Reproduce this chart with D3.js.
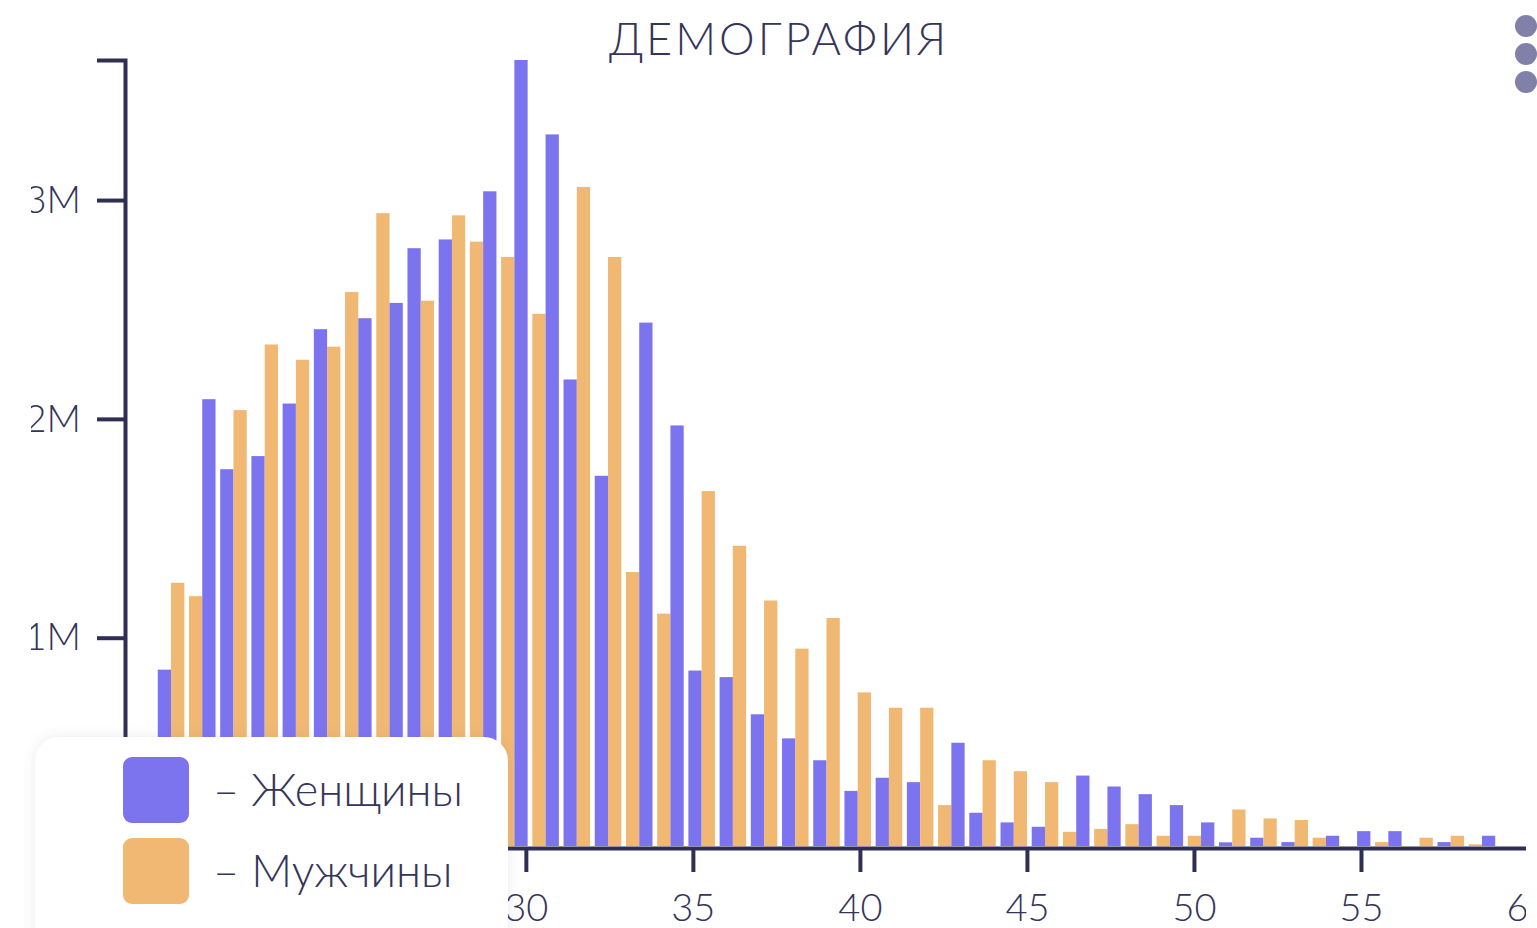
<!DOCTYPE html>
<html lang="ru">
<head>
<meta charset="utf-8">
<title>Демография</title>
<script src="https://cdn.jsdelivr.net/npm/d3@7"></script>
<style>
    html, body { margin: 0; padding: 0; background: #ffffff; overflow: hidden; }
    #chart { width: 1537px; height: 928px; }
    text { font-family: "Lato", "Open Sans", sans-serif; font-weight: 300; fill: #35345a; }
</style>
</head>
<body>
<div id="chart"></div>
<script>
// age groups (one pair of bars per age)
const ages = [18, 19, 20, 21, 22, 23, 24, 25, 26, 27, 28, 29, 30, 31, 32, 33, 34, 35, 36, 37, 38,
              39, 40, 41, 42, 43, 44, 45, 46, 47, 48, 49, 50, 51, 52, 53, 54, 55, 56, 57, 58, 59, 60];

// values in thousands of people
const women = [854, 2090, 1770, 1830, 2070, 2410, 2460, 2530, 2780, 2820, 3040, 3640, 3300, 2180, 1740,
               2440, 1970, 850, 820, 650, 540, 440, 300, 360, 340, 520, 200, 156, 136, 370,
               320, 285, 235, 156, 65, 86, 66, 95, 116, 116, 39, 66, 95];
const men = [1251, 1190, 2040, 2340, 2270, 2330, 2580, 2940, 2540, 2930, 2810, 2740, 2480, 3060, 2740,
             1300, 1110, 1670, 1420, 1170, 950, 1090, 750, 680, 680, 235, 440, 390, 340, 113,
             126, 148, 95, 95, 215, 174, 167, 86, 39, 66, 86, 95, 56];

// which bar comes first inside each pair, as it appears on the chart
const firstBar = ["w", "m", "w", "w", "w", "w", "m", "m", "w", "w", "m", "m", "m", "w", "w",
                  "m", "m", "w", "w", "w", "w", "w", "w", "w", "w", "m", "w", "w", "w", "m",
                  "m", "m", "m", "m", "w", "w", "w", "m", "m", "m", "w", "w", "m"];

const seriesNames = { w: "Женщины", m: "Мужчины" };
const colors = { w: "#7c73ef", m: "#f0b873" };

const axisColor = "#2f2e55";
const W = 1537, H = 928;
const plot = { left: 125, right: 1528, top: 60, bottom: 848 };
const legendBox = { x: 35, y: 737, width: 473, height: 230 };

const data = ages.map((age, i) => ({
    age: age,
    order: firstBar[i] === "w" ? ["w", "m"] : ["m", "w"],
    w: women[i],
    m: men[i]
}));

const svg = d3.select("#chart")
    .append("svg")
    .attr("width", W)
    .attr("height", H);

const defs = svg.append("defs");

// the chart card is a bit narrower than the window: its edges cut the outer labels
defs.append("clipPath")
    .attr("id", "cardClip")
    .append("rect")
    .attr("x", 31)
    .attr("y", 0)
    .attr("width", 1526 - 31)
    .attr("height", H);

const chart = svg.append("g").attr("clip-path", "url(#cardClip)");

// Scales
const xLinear = d3.scaleLinear()
    .domain([d3.min(ages), d3.max(ages)])
    .range([plot.left, plot.right]);

const xBand = d3.scaleBand()
    .domain(ages)
    .range([plot.left, plot.right])
    .paddingInner(0.15)
    .paddingOuter(1.05);

const xInner = d3.scaleBand()
    .domain([0, 1])
    .range([0, xBand.bandwidth()]);

const y = d3.scaleLinear()
    .domain(d3.extent(women.concat(men)))
    .range([plot.bottom, plot.top]);

// Axes
const xAxis = d3.axisBottom(xLinear).ticks(8).tickSize(24).tickSizeOuter(0).tickPadding(22);
const yAxis = d3.axisLeft(y).ticks(4).tickSize(28).tickSizeOuter(28).tickPadding(16)
    .tickFormat(d => d3.format("~s")(d * 1000));

const gx = chart.append("g")
    .attr("transform", `translate(0, ${plot.bottom})`)
    .call(xAxis);

const gy = chart.append("g")
    .attr("transform", `translate(${plot.left}, 0)`)
    .call(yAxis);

[gx, gy].forEach(g => {
    g.select(".domain").attr("stroke", axisColor).attr("stroke-width", 4);
    g.selectAll(".tick line").attr("stroke", axisColor).attr("stroke-width", 4);
    g.selectAll(".tick text")
        .attr("fill", "#35345a")
        .style("font-family", "Lato, 'Open Sans', sans-serif")
        .style("font-weight", 300)
        .style("font-size", "38px");
});

// labels that sit under the legend card are never seen
gx.selectAll(".tick")
    .filter(d => xLinear(d) + 30 < legendBox.x + legendBox.width)
    .select("text")
    .remove();

// Bars
const groups = chart.append("g")
    .selectAll("g")
    .data(data)
    .enter()
    .append("g")
    .attr("transform", d => `translate(${xBand(d.age)}, 0)`);

groups.selectAll("rect")
    .data(d => d.order.map((key, j) => ({ key: key, slot: j, value: d[key] })))
    .enter()
    .append("rect")
    .attr("x", d => xInner(d.slot))
    .attr("y", d => y(d.value))
    .attr("width", xInner.bandwidth())
    .attr("height", d => Math.max(0, plot.bottom - 2 - y(d.value)))
    .attr("fill", d => colors[d.key]);

// Title
svg.append("text")
    .attr("x", 779)
    .attr("y", 55)
    .attr("text-anchor", "middle")
    .style("font-size", "45px")
    .style("letter-spacing", "3px")
    .attr("fill", "#3b3a63")
    .text("ДЕМОГРАФИЯ");

// Menu dots
svg.append("g")
    .selectAll("circle")
    .data([26, 54, 82])
    .enter()
    .append("circle")
    .attr("cx", 1526)
    .attr("cy", d => d)
    .attr("r", 11)
    .attr("fill", "#8080a8");

// Legend
const shadow = defs.append("filter")
    .attr("id", "legendShadow")
    .attr("x", "-20%").attr("y", "-20%")
    .attr("width", "140%").attr("height", "140%");
shadow.append("feDropShadow")
    .attr("dx", 0).attr("dy", 0)
    .attr("stdDeviation", 6)
    .attr("flood-color", "#6a6a90")
    .attr("flood-opacity", 0.14);

const legend = svg.append("g");

legend.append("rect")
    .attr("x", legendBox.x)
    .attr("y", legendBox.y)
    .attr("width", legendBox.width)
    .attr("height", legendBox.height)
    .attr("rx", 24)
    .attr("fill", "#ffffff")
    .attr("filter", "url(#legendShadow)");

const legendItems = legend.selectAll(".item")
    .data(["w", "m"])
    .enter()
    .append("g")
    .attr("class", "item")
    .attr("transform", (d, i) => `translate(123, ${757 + i * 81})`);

legendItems.append("rect")
    .attr("width", 66)
    .attr("height", 66)
    .attr("rx", 9)
    .attr("fill", d => colors[d]);

legendItems.append("text")
    .attr("x", 90)
    .attr("y", 49)
    .style("font-size", "45px")
    .attr("fill", "#35345a")
    .text(d => "– " + seriesNames[d]);
</script>
</body>
</html>
